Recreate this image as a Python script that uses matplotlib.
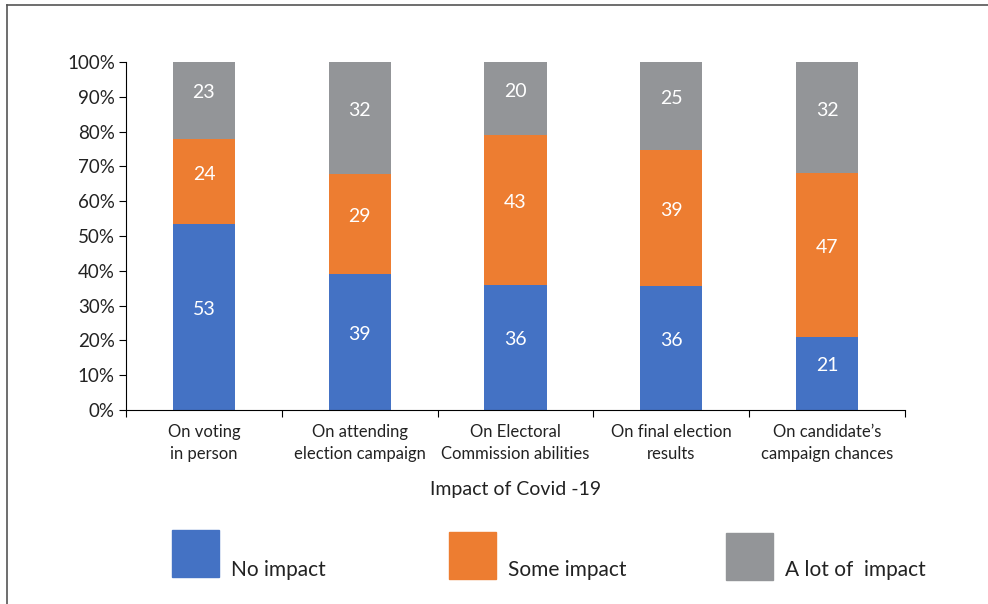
import numpy as np
import matplotlib
matplotlib.use('Agg')
from matplotlib import pyplot as plt
from matplotlib.patches import Rectangle

plt.rcParams['font.family'] = ['Lato', 'DejaVu Sans']

### Data
categories = ['On voting\nin person'
             ,'On attending\nelection campaign'
             ,'On Electoral\nCommission abilities'
             ,'On final election\nresults'
             ,"On candidate\u2019s\ncampaign chances"]
series_names = ['No impact', 'Some impact', 'A lot of  impact']

# printed labels
no_impact = [53, 39, 36, 36, 21]
some_impact = [24, 29, 43, 39, 47]
lot_impact = [23, 32, 20, 25, 32]

# segment heights (%)
no_impact_pct = [53.4, 39.1, 35.9, 35.6, 21.1]
some_impact_pct = [24.4, 28.7, 43.0, 39.1, 46.9]
lot_impact_pct = [22.2, 32.2, 21.1, 25.3, 32.0]

colors = ['#4472C4', '#ED7D31', '#939598']

labels = [no_impact, some_impact, lot_impact]
heights = [no_impact_pct, some_impact_pct, lot_impact_pct]

fig = plt.figure(figsize=(9.88, 6.04), dpi=100)
ax = fig.add_axes([126/988, 1 - 410/604, (905-126)/988, (410-62)/604])

x = np.arange(len(categories))
bottom = np.zeros(len(categories))
for labs, hts, col in zip(labels, heights, colors):
    hts = np.array(hts)
    ax.bar(x, hts, bottom=bottom, width=0.4, color=col)
    for xi, b, h, v in zip(x, bottom, hts, labs):
        ax.annotate('{:d}'.format(v), (xi, b + h/2), xytext=(0, 5.5)
                    ,textcoords='offset points', ha='center', va='center'
                    ,color='white', fontsize=14)
    bottom = bottom + hts

ax.set_xlim(-0.5, len(categories) - 0.5)
ax.set_ylim(0, 100)
ax.set_yticks(np.arange(0, 101, 10))
ax.set_yticklabels(['{}%'.format(v) for v in range(0, 101, 10)], fontsize=13.5, color='#222222')
ax.set_xticks(np.arange(-0.5, len(categories)), minor=False)
ax.set_xticklabels([])
ax.set_xticks(x, minor=True)
ax.set_xticklabels(categories, minor=True, fontsize=12, color='#222222', linespacing=1.45)
ax.tick_params(axis='x', which='minor', length=0, pad=10)
ax.tick_params(axis='x', which='major', length=5, direction='out', color='black')
ax.tick_params(axis='y', length=5, direction='out', color='black', pad=3)
for side in ['top', 'right']:
    ax.spines[side].set_visible(False)
ax.spines['left'].set_color('black')
ax.spines['bottom'].set_color('black')
ax.set_xlabel('Impact of Covid -19', fontsize=14, color='#222222', labelpad=14)

### Legend drawn by hand, big square swatches with labels set low
leg_x = [172, 449, 726]
leg_y = [577, 579, 580]
for lx, ly, name, col in zip(leg_x, leg_y, series_names, colors):
    fig.patches.append(Rectangle((lx/988, 1 - ly/604), 47/988, 47/604
                                 ,transform=fig.transFigure, color=col))
    fig.text((lx + 59)/988, 1 - 576/604, name, fontsize=15, color='#222222'
             ,ha='left', va='baseline')

### Outer frame (left and top visible)
fig.add_artist(plt.Line2D([7/988, 7/988], [0, 1 - 5/604], transform=fig.transFigure
                          ,color='#555555', lw=1.2))
fig.add_artist(plt.Line2D([7/988, 1], [1 - 5/604, 1 - 5/604], transform=fig.transFigure
                          ,color='#555555', lw=1.2))

plt.savefig('out.png', dpi=100)
